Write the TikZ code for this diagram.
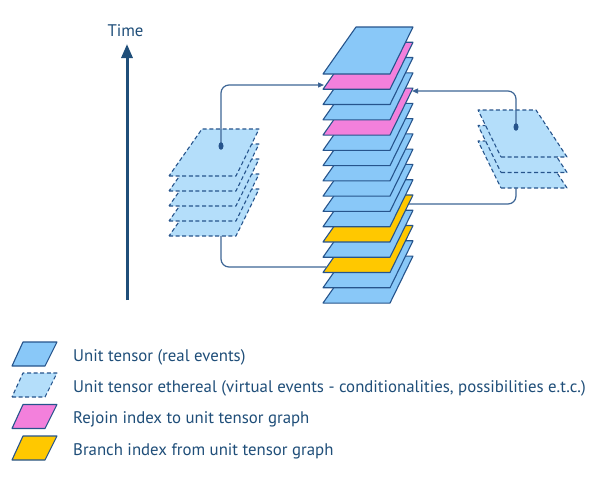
\documentclass[tikz,border=0pt]{standalone}
\usepackage{fontspec}
\setmainfont{PT Sans}
\usetikzlibrary{arrows.meta}
\definecolor{realfill}{RGB}{137,200,248}
\definecolor{ethfill}{RGB}{180,222,250}
\definecolor{rejoinfill}{RGB}{243,128,220}
\definecolor{branchfill}{RGB}{255,200,0}
\definecolor{edgeblue}{RGB}{38,84,140}
\definecolor{txtblue}{RGB}{31,78,121}
\definecolor{connblue}{RGB}{62,102,150}
\begin{document}
\begin{tikzpicture}[x=1pt,y=-1pt,
  plate/.style={draw=edgeblue,line width=1.1pt,line join=round},
  ethplate/.style={plate,fill=ethfill,dash pattern=on 4pt off 2.6pt},
  cplate/.pic={\path[plate,fill=#1] (0,0) -- (67,0) -- (90,-47) -- (33,-47) -- cycle;},
  lplate/.pic={\path[ethplate] (0,0) -- (67,0) -- (90,-47) -- (33,-47) -- cycle;},
  rplate/.pic={\path[ethplate] (0,0) -- (66,0) -- (35,-47) -- (-23,-47) -- cycle;},
  iconplate/.pic={\path[plate,#1] (0,12) -- (33,12) -- (45,-12) -- (11,-12) -- cycle;},
  connector/.style={draw=connblue,line width=1.2pt,rounded corners=8pt},
  tip/.style={-{Triangle[length=6pt,width=5pt,fill=edgeblue]}},
  lbl/.style={text=txtblue,font=\fontsize{16.8}{20}\selectfont,inner sep=0pt}]
\useasboundingbox[fill=white] (0,0) rectangle (600,483);

% central stack (bottom first)
\foreach \i/\c in {16/realfill,15/realfill,14/branchfill,13/realfill,12/branchfill,11/realfill,10/realfill,9/realfill,8/realfill,7/realfill,6/realfill,5/rejoinfill,4/realfill,3/realfill,2/rejoinfill,1/realfill}
  \pic (c\i) at (323,{74+(\i-1)*15.27}) {cplate=\c};

% left ethereal stack
\foreach \k in {4,3,2,1,0}
  \pic (l\k) at (169,{176+\k*15}) {lplate};

% right ethereal stack
\foreach \k in {2,1,0}
  \pic (r\k) at (501,{157+\k*15.5}) {rplate};

% connector end points
\coordinate (ldot) at (221,146);
\coordinate (lbot) at (221,236);
\coordinate (rejoinA) at (324,85);
\coordinate (branchA) at (326,267);
\coordinate (rdot) at (516,127);
\coordinate (rbot) at (516,188);
\coordinate (rejoinB) at (412,91);
\coordinate (branchB) at (409,204);

\draw[connector,tip] (ldot) |- (rejoinA);
\draw[connector] (lbot) |- (branchA);
\draw[connector,tip] (rdot) |- (rejoinB);
\draw[connector] (rbot) |- (branchB);
\fill[edgeblue] (ldot) ellipse (2.5 and 3.8);
\fill[edgeblue] (rdot) ellipse (2.5 and 3.8);

% time axis
\coordinate (tbot) at (127,300);
\coordinate (ttop) at (127,44);
\draw[draw=txtblue,line width=3pt,-{Triangle[length=14pt,width=11pt]}] (tbot) -- (ttop);
\node[lbl,anchor=base] (time) at (125.5,36) {Time};

% legend
\pic (k1) at (12,354) {iconplate={fill=realfill}};
\pic (k2) at (12,385) {iconplate={fill=ethfill,dash pattern=on 4pt off 2.6pt}};
\pic (k3) at (12,416.5) {iconplate={fill=rejoinfill}};
\pic (k4) at (12,448) {iconplate={fill=branchfill}};
\node[lbl,anchor=base west] (t1) at (73,361) {Unit tensor (real events)};
\node[lbl,anchor=base west] (t2) at (73,392) {Unit tensor ethereal (virtual events - conditionalities, possibilities e.t.c.)};
\node[lbl,anchor=base west] (t3) at (73,423.5) {Rejoin index to unit tensor graph};
\node[lbl,anchor=base west] (t4) at (73,455) {Branch index from unit tensor graph};
\end{tikzpicture}
\end{document}
